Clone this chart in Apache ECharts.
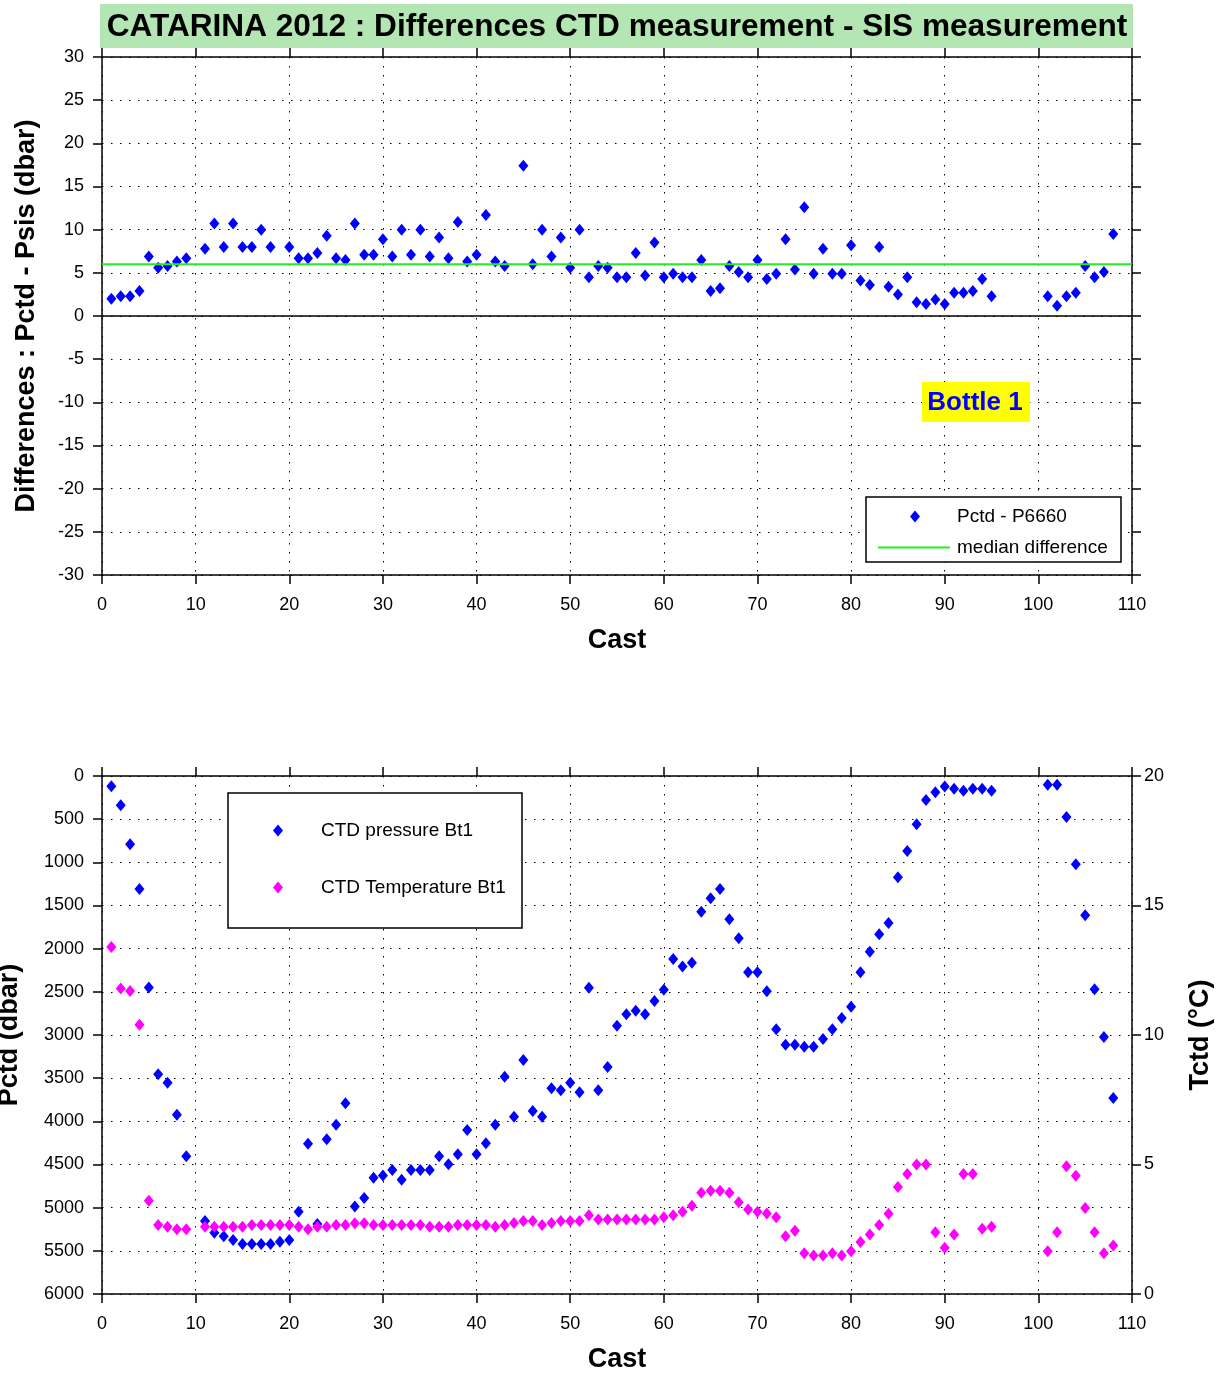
<!DOCTYPE html>
<html>
<head>
<meta charset="utf-8">
<title>CATARINA 2012 : Differences CTD measurement - SIS measurement</title>
<script src="https://cdn.jsdelivr.net/npm/echarts@6/dist/echarts.min.js"></script>
<style>
  html, body { margin: 0; padding: 0; background: #fff; }
  #chart { width: 1229px; height: 1376px; }
</style>
</head>
<body>
<div id="chart"></div>
<script>
// --- data ---
// top panel: Pctd - P6660 (dbar) by cast
const castTop = [
  1, 2, 3, 4, 5, 6, 7, 8, 9,
  11, 12, 13, 14, 15, 16, 17, 18,
  20, 21, 22, 23, 24, 25, 26, 27, 28, 29, 30, 31, 32, 33, 34, 35, 36, 37, 38, 39, 40, 41, 42, 43,
  45, 46, 47, 48, 49, 50, 51, 52, 53, 54, 55, 56, 57, 58, 59, 60, 61, 62, 63, 64, 65, 66, 67, 68, 69, 70,
  71, 72, 73, 74, 75, 76, 77, 78, 79, 80, 81, 82, 83, 84, 85, 86, 87, 88, 89, 90, 91, 92, 93, 94, 95,
  101, 102, 103, 104, 105, 106, 107, 108
];
const diffTop = [
  2.0, 2.3, 2.3, 2.9, 6.9, 5.6, 5.8, 6.3, 6.7,
  7.8, 10.7, 8.0, 10.7, 8.0, 8.0, 10.0, 8.0,
  8.0, 6.7, 6.7, 7.3, 9.3, 6.7, 6.5, 10.7, 7.1, 7.1, 8.9, 6.9, 10.0, 7.1, 10.0, 6.9, 9.1, 6.7, 10.9, 6.3, 7.1, 11.7, 6.3, 5.8,
  17.4, 6.0, 10.0, 6.9, 9.1, 5.6, 10.0, 4.5, 5.8, 5.6, 4.5, 4.5, 7.3, 4.7, 8.5, 4.5, 4.9, 4.5, 4.5, 6.5, 2.9, 3.2, 5.8, 5.1, 4.5, 6.5,
  4.3, 4.9, 8.9, 5.4, 12.6, 4.9, 7.8, 4.9, 4.9, 8.2, 4.1, 3.6, 8.0, 3.4, 2.5, 4.5, 1.6, 1.4, 1.9, 1.4, 2.7, 2.7, 2.9, 4.3, 2.3,
  2.3, 1.2, 2.3, 2.7, 5.8, 4.5, 5.1, 9.5
];
const medianDiff = 6.0;

// bottom panel: CTD pressure (dbar) and temperature (°C) at bottle 1
const castBottom = [
  1, 2, 3, 4, 5, 6, 7, 8, 9,
  11, 12, 13, 14, 15, 16, 17, 18, 19, 20, 21, 22, 23, 24, 25, 26, 27, 28, 29, 30,
  31, 32, 33, 34, 35, 36, 37, 38, 39, 40, 41, 42, 43, 44, 45, 46, 47, 48, 49, 50,
  51, 52, 53, 54, 55, 56, 57, 58, 59, 60, 61, 62, 63, 64, 65, 66, 67, 68, 69, 70,
  71, 72, 73, 74, 75, 76, 77, 78, 79, 80, 81, 82, 83, 84, 85, 86, 87, 88, 89, 90,
  91, 92, 93, 94, 95,
  101, 102, 103, 104, 105, 106, 107, 108
];
const pressure = [
  120, 340, 790, 1310, 2450, 3456, 3552, 3923, 4405,
  5155, 5290, 5332, 5375, 5421, 5421, 5421, 5421, 5394, 5375, 5046, 4259, 5190, 4208, 4039, 3791, 4986, 4888, 4653, 4626,
  4564, 4676, 4564, 4564, 4564, 4405, 4498, 4382, 4100, 4382, 4255, 4039, 3483, 3946, 3290, 3880, 3946, 3618, 3641, 3552,
  3664, 2452, 3641, 3371, 2892, 2761, 2719, 2761, 2606, 2475, 2120, 2208, 2162, 1571, 1417, 1309, 1660, 1880, 2274, 2274,
  2494, 2934, 3112, 3112, 3135, 3135, 3046, 2934, 2803, 2672, 2274, 2035, 1834, 1703, 1174, 869, 560, 278, 189, 123,
  147, 170, 147, 147, 170,
  100, 100, 475, 1023, 1614, 2471, 3023, 3730
];
const temperature = [
  13.4, 11.8, 11.7, 10.4, 3.6, 2.66, 2.6, 2.5, 2.5,
  2.6, 2.6, 2.6, 2.6, 2.6, 2.66, 2.66, 2.66, 2.66, 2.66, 2.6, 2.5, 2.6, 2.6, 2.66, 2.66, 2.73, 2.73, 2.66, 2.66,
  2.66, 2.66, 2.66, 2.66, 2.6, 2.6, 2.6, 2.66, 2.66, 2.66, 2.66, 2.6, 2.66, 2.74, 2.82, 2.82, 2.66, 2.74, 2.82, 2.82,
  2.82, 3.04, 2.88, 2.88, 2.88, 2.88, 2.88, 2.88, 2.88, 2.96, 3.04, 3.18, 3.41, 3.91, 3.99, 3.99, 3.91, 3.54, 3.26, 3.18,
  3.11, 2.96, 2.23, 2.44, 1.57, 1.49, 1.49, 1.57, 1.49, 1.65, 2.01, 2.3, 2.66, 3.1, 4.13, 4.63, 5.0, 5.0, 2.38, 1.79,
  2.3, 4.63, 4.63, 2.52, 2.6,
  1.65, 2.38, 4.93, 4.57, 3.32, 2.38, 1.57, 1.87
];

const castMin = 0;
const castMax = 110;

const FONT = 'Liberation Sans, Arial, sans-serif';
const dotted = { color: '#000', width: 1, type: [1.5, 7.5] };
const axisLine = { show: true, onZero: false, lineStyle: { color: '#000', width: 1.5 } };
const axisTick = { show: true, inside: false, length: 9, lineStyle: { color: '#000', width: 1.5 } };
const labelStyle = { color: '#000', fontSize: 18, fontFamily: FONT, formatter: (v) => String(v) };
const nameStyle = { color: '#000', fontSize: 27, fontWeight: 'bold', fontFamily: FONT };

const pair = (xs, ys) => xs.map((x, i) => [x, ys[i]]);

const chart = echarts.init(document.getElementById('chart'));

const castAxis = (gridIndex) => ({
  type: 'value',
  gridIndex,
  position: 'bottom',
  min: castMin,
  max: castMax,
  interval: 10,
  name: 'Cast',
  nameLocation: 'middle',
  nameGap: 52,
  nameTextStyle: nameStyle,
  axisLine,
  axisTick,
  axisLabel: Object.assign({}, labelStyle, { margin: 21 }),
  splitLine: { show: true, lineStyle: dotted }
});

const frameX = (gridIndex) => ({
  type: 'value',
  gridIndex,
  position: 'top',
  min: castMin,
  max: castMax,
  interval: 10,
  axisLine,
  axisTick,
  axisLabel: { show: false },
  splitLine: { show: false }
});

// one legend per entry so that icons keep their own shape
const legendEntry = (name, icon, left, top, w, h, textShift) => ({
  left,
  top,
  orient: 'vertical',
  itemWidth: w,
  itemHeight: h,
  padding: 0,
  z: 10,
  formatter: (n) => '{t|' + n + '}',
  textStyle: {
    color: '#000',
    fontSize: 19,
    fontFamily: FONT,
    rich: { t: { fontSize: 19, fontFamily: FONT, color: '#000', lineHeight: 20, padding: [0, 0, 0, textShift] } }
  },
  data: [{ name, icon }]
});

const option = {
  animation: false,
  backgroundColor: '#fff',
  textStyle: { fontFamily: FONT },
  grid: [
    { left: 102, top: 57, width: 1030, height: 518, outerBoundsMode: 'none', containLabel: false },
    { left: 102, top: 776, width: 1030, height: 518, outerBoundsMode: 'none', containLabel: false }
  ],
  xAxis: [
    castAxis(0),
    frameX(0),
    castAxis(1),
    frameX(1)
  ],
  yAxis: [
    {
      type: 'value',
      gridIndex: 0,
      position: 'left',
      min: -30,
      max: 30,
      interval: 5,
      name: 'Differences : Pctd - Psis (dbar)',
      nameLocation: 'middle',
      nameGap: 62,
      nameTextStyle: nameStyle,
      axisLine,
      axisTick,
      axisLabel: Object.assign({}, labelStyle, { margin: 18 }),
      splitLine: { show: true, lineStyle: dotted }
    },
    {
      type: 'value',
      gridIndex: 0,
      position: 'right',
      min: -30,
      max: 30,
      interval: 5,
      axisLine,
      axisTick,
      axisLabel: { show: false },
      splitLine: { show: false }
    },
    {
      type: 'value',
      gridIndex: 1,
      position: 'left',
      inverse: true,
      min: 0,
      max: 6000,
      interval: 500,
      name: 'Pctd (dbar)',
      nameLocation: 'middle',
      nameGap: 79,
      nameTextStyle: nameStyle,
      axisLine,
      axisTick,
      axisLabel: Object.assign({}, labelStyle, { margin: 18 }),
      splitLine: { show: true, lineStyle: dotted }
    },
    {
      type: 'value',
      gridIndex: 1,
      position: 'right',
      min: 0,
      max: 20,
      interval: 5,
      name: 'Tctd (°C)',
      nameLocation: 'middle',
      nameGap: 55,
      nameRotate: 90,
      nameTextStyle: nameStyle,
      axisLine,
      axisTick,
      axisLabel: Object.assign({}, labelStyle, { margin: 12 }),
      splitLine: { show: false }
    }
  ],
  legend: [
    legendEntry('Pctd - P6660', 'diamond', 910, 507, 10, 12, 32),
    legendEntry('median difference', 'rect', 878, 538, 72, 2, 2),
    legendEntry('CTD pressure Bt1', 'diamond', 273, 821, 10, 12, 33),
    legendEntry('CTD Temperature Bt1', 'diamond', 273, 878, 10, 12, 33)
  ],
  graphic: [
    {
      type: 'rect',
      shape: { x: 100, y: 4, width: 1033, height: 44 },
      style: { fill: '#b3e6b3' },
      z: 1
    },
    {
      type: 'text',
      x: 617,
      y: 27,
      style: {
        text: 'CATARINA 2012 : Differences CTD measurement - SIS measurement',
        fill: '#000',
        font: 'bold 31.6px ' + FONT,
        align: 'center',
        verticalAlign: 'middle'
      },
      z: 2
    },
    {
      type: 'rect',
      shape: { x: 922, y: 382, width: 108, height: 40 },
      style: { fill: '#ffff00' },
      z: 3
    },
    {
      type: 'text',
      x: 975,
      y: 403,
      style: {
        text: 'Bottle 1',
        fill: '#0000ff',
        font: 'bold 26px ' + FONT,
        align: 'center',
        verticalAlign: 'middle'
      },
      z: 4
    },
    {
      type: 'rect',
      shape: { x: 866, y: 497, width: 255, height: 65 },
      style: { fill: '#fff', stroke: '#000', lineWidth: 1.5 },
      z: 3
    },
    {
      type: 'rect',
      shape: { x: 228, y: 793, width: 294, height: 135 },
      style: { fill: '#fff', stroke: '#000', lineWidth: 1.5 },
      z: 3
    }
  ],
  series: [
    {
      name: 'Pctd - P6660',
      type: 'scatter',
      xAxisIndex: 0,
      yAxisIndex: 0,
      symbol: 'diamond',
      symbolSize: [10, 12],
      itemStyle: { color: '#0000ff', opacity: 1 },
      data: pair(castTop, diffTop),
      markLine: {
        silent: true,
        symbol: 'none',
        label: { show: false },
        lineStyle: { color: '#000', type: 'solid', width: 1.5 },
        data: [{ yAxis: 0 }]
      }
    },
    {
      name: 'median difference',
      type: 'line',
      xAxisIndex: 0,
      yAxisIndex: 0,
      symbol: 'none',
      lineStyle: { color: '#22ee22', width: 2 },
      itemStyle: { color: '#22ee22' },
      data: [[castMin, medianDiff], [castMax, medianDiff]]
    },
    {
      name: 'CTD pressure Bt1',
      type: 'scatter',
      xAxisIndex: 2,
      yAxisIndex: 2,
      symbol: 'diamond',
      symbolSize: [10, 12],
      itemStyle: { color: '#0000ff', opacity: 1 },
      data: pair(castBottom, pressure)
    },
    {
      name: 'CTD Temperature Bt1',
      type: 'scatter',
      xAxisIndex: 2,
      yAxisIndex: 3,
      symbol: 'diamond',
      symbolSize: [10, 12],
      itemStyle: { color: '#ff00ff', opacity: 1 },
      data: pair(castBottom, temperature)
    }
  ]
};

chart.setOption(option);
</script>
</body>
</html>
